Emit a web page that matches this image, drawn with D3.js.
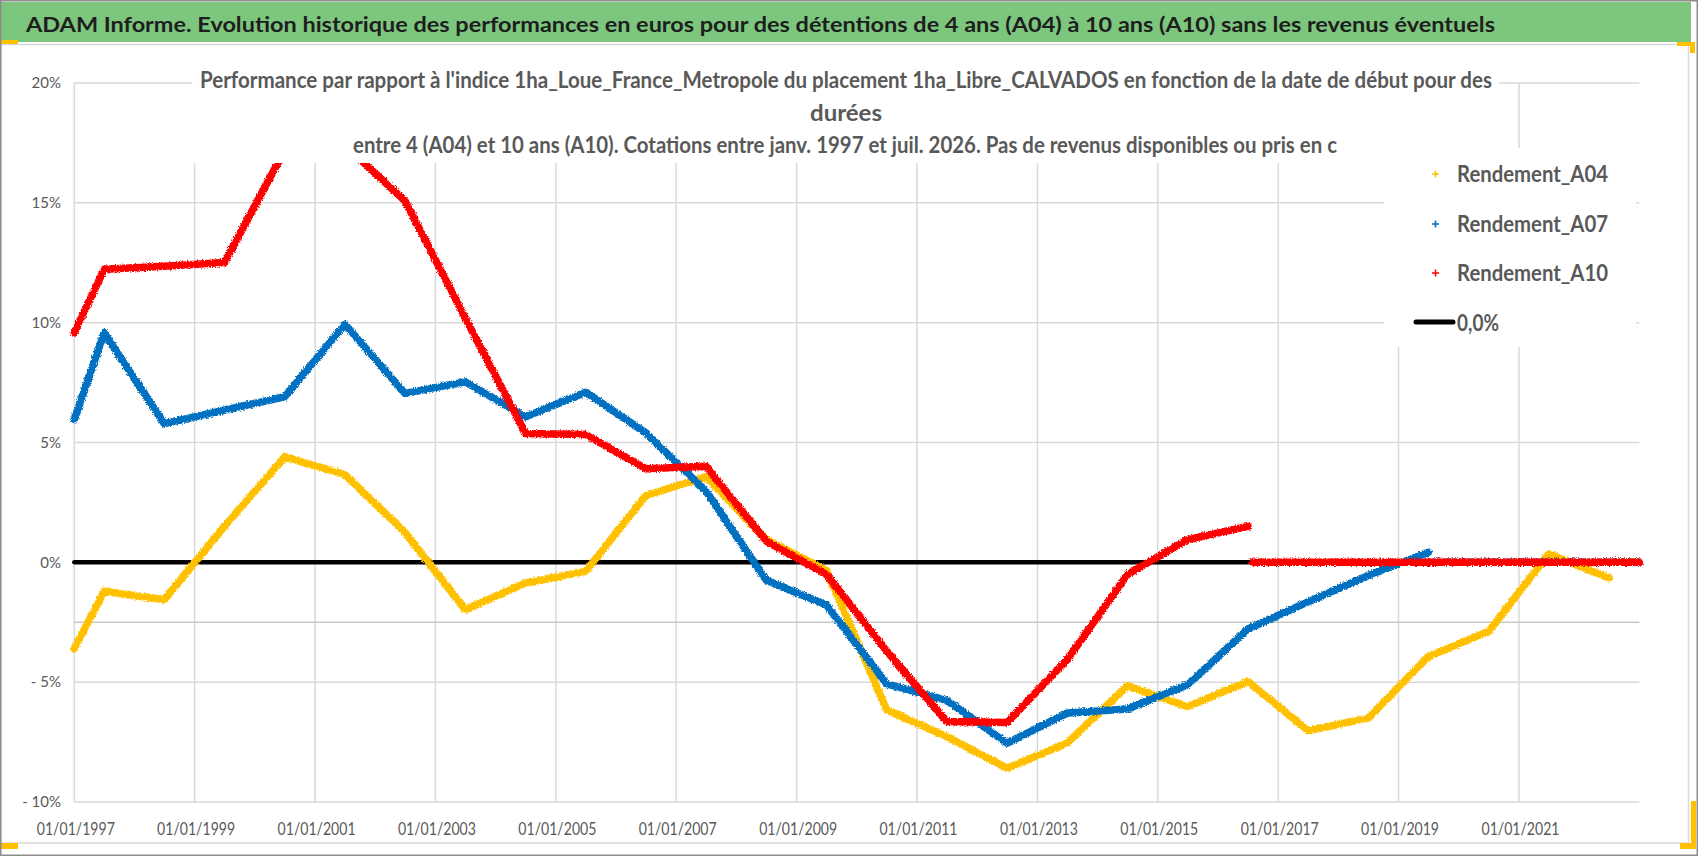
<!DOCTYPE html>
<html>
<head>
<meta charset="utf-8">
<script src="https://cdn.jsdelivr.net/npm/d3@7"></script>
<style>
  body { margin: 0; background: #fff; }
  svg { display: block; }
  text { font-family: Lato, "Open Sans", "DejaVu Sans", sans-serif; }
</style>
</head>
<body>
<svg width="1698" height="856"></svg>
<script>
// start dates shared by the three series (first quote, then each July)
var startDates = [
    "1997-01-01", "1997-07-01", "1998-07-01", "1999-07-01", "2000-07-01", "2001-07-01",
    "2002-07-01", "2003-07-01", "2004-07-01", "2005-07-01", "2006-07-01", "2007-07-01",
    "2008-07-01", "2009-07-01", "2010-07-01", "2011-07-01", "2012-07-01", "2013-07-01",
    "2014-07-01", "2015-07-01", "2016-07-01", "2017-07-01", "2018-07-01", "2019-07-01",
    "2020-07-01", "2021-07-01", "2022-07-01"
];

// rendement in %, one value per start date
var valuesA04 = [-3.6, -1.21, -1.56, 1.5, 4.40, 3.66, 1.25, -1.98, -0.86, -0.38, 2.79, 3.57,
    0.95, -0.33, -6.15, -7.27, -8.59, -7.54, -5.15, -6.02, -4.97, -7.02, -6.50, -3.93,
    -2.88, 0.36, -0.65];
var valuesA07 = [5.96, 9.58, 5.79, 6.35, 6.91, 9.93, 7.05, 7.53, 6.07, 7.10, 5.40, 2.97,
    -0.75, -1.78, -5.07, -5.76, -7.55, -6.29, -6.12, -5.11, -2.78, -1.65, -0.55, 0.42];
var valuesA10 = [9.58, 12.23, 12.35, 12.51, 17.2, 17.4, 15.08, 10.2, 5.38, 5.33, 3.90, 4.01,
    0.88, -0.51, -3.7, -6.64, -6.68, -4.06, -0.51, 0.95, 1.50];

// after the last computable date the series are plotted at 0
var tailA04 = [["2022-08-01", 0], ["2023-01-01", 0]];
var tailA07 = [["2019-08-01", 0], ["2023-01-01", 0]];
var tailA10 = [["2016-08-01", 0], ["2023-01-01", 0]];
var zeroLine = [["1997-01-01", 0], ["2023-01-01", 0]];

var seriesNames = ["Rendement_A04", "Rendement_A07", "Rendement_A10"];
var seriesColors = ["#FFC000", "#0070C0", "#FF0000"];

var tickDates = ["1997-01-01", "1999-01-01", "2001-01-01", "2003-01-01", "2005-01-01",
    "2007-01-01", "2009-01-01", "2011-01-01", "2013-01-01", "2015-01-01", "2017-01-01",
    "2019-01-01", "2021-01-01"];
var yTicks = [-10, -5, 0, 5, 10, 15, 20];
var axisCross = -2.5;

var titleText = "ADAM Informe. Evolution historique des performances en euros pour des détentions de 4 ans (A04) à 10 ans (A10) sans les revenus éventuels";
var subtitleLines = [
    "Performance par rapport à l'indice 1ha_Loue_France_Metropole  du placement 1ha_Libre_CALVADOS en fonction de la date de début pour des",
    "durées",
    "entre 4 (A04) et 10 ans (A10). Cotations entre janv. 1997 et juil. 2026. Pas de revenus disponibles ou pris en c"
];

var parse = d3.timeParse("%Y-%m-%d");

var svg = d3.select("svg"),
    width = +svg.attr("width"),
    height = +svg.attr("height");

var defs = svg.append("defs");
var rough = defs.append("filter").attr("id", "rough")
    .attr("filterUnits", "userSpaceOnUse")
    .attr("x", 0).attr("y", 0).attr("width", width).attr("height", height);
rough.append("feTurbulence").attr("type", "fractalNoise")
    .attr("baseFrequency", 0.8).attr("numOctaves", 2).attr("seed", 3).attr("result", "n");
rough.append("feDisplacementMap").attr("in", "SourceGraphic").attr("in2", "n")
    .attr("scale", 4).attr("xChannelSelector", "R").attr("yChannelSelector", "G");

var x = d3.scaleTime()
    .domain([parse("1997-01-01"), parse("2023-01-01")])
    .range([74.3, 1639.3]);
var y = d3.scaleLinear().domain([-10, 20]).range([802, 83]);

// chart area frame
svg.append("rect").attr("x", 0.5).attr("y", 44.5).attr("width", 1688).attr("height", 798.5)
    .attr("fill", "#fff").attr("stroke", "#d9d9d9").attr("stroke-width", 1.5);

// gridlines
svg.append("g").selectAll("line").data(yTicks).enter().append("line")
    .attr("x1", x.range()[0]).attr("x2", x.range()[1])
    .attr("y1", function (d) { return y(d); }).attr("y2", function (d) { return y(d); })
    .attr("stroke", "#d9d9d9").attr("stroke-width", 1.5);
svg.append("g").selectAll("line").data(tickDates).enter().append("line")
    .attr("x1", function (d) { return x(parse(d)); }).attr("x2", function (d) { return x(parse(d)); })
    .attr("y1", y(20)).attr("y2", y(-10))
    .attr("stroke", "#d9d9d9").attr("stroke-width", 1.5);
svg.append("line")
    .attr("x1", x.range()[0]).attr("x2", x.range()[1])
    .attr("y1", y(axisCross)).attr("y2", y(axisCross))
    .attr("stroke", "#c8c8c8").attr("stroke-width", 1.5);

var line = d3.line()
    .x(function (d) { return x(parse(d[0])); })
    .y(function (d) { return y(d[1]); });

// 0,0% line
svg.append("path").attr("d", line(zeroLine))
    .attr("fill", "none").attr("stroke", "#000").attr("stroke-width", 4.5)
    .attr("stroke-linecap", "round");

var seriesValues = [valuesA04, valuesA07, valuesA10];
var seriesTails = [tailA04, tailA07, tailA10];

seriesValues.forEach(function (vals, i) {
    var pts = vals.map(function (v, j) { return [startDates[j], v]; });
    var g = svg.append("g").attr("filter", "url(#rough)");
    g.append("path").attr("d", line(pts))
        .attr("fill", "none").attr("stroke", seriesColors[i]).attr("stroke-width", 7.5)
        .attr("stroke-linejoin", "round").attr("stroke-linecap", "round");
    g.append("path").attr("d", line(seriesTails[i]))
        .attr("fill", "none").attr("stroke", seriesColors[i]).attr("stroke-width", 7.5)
        .attr("stroke-linecap", "round");
});

// chart title box
svg.append("rect").attr("x", 192).attr("y", 50).attr("width", 1307).attr("height", 113)
    .attr("fill", "#fff");
var subX = [200, 810, 353], subLen = [1292, 72, 984], subY = [88, 121, 153];
subtitleLines.forEach(function (t, i) {
    svg.append("text").attr("x", subX[i]).attr("y", subY[i])
        .attr("textLength", subLen[i]).attr("lengthAdjust", "spacingAndGlyphs")
        .attr("font-size", 22).attr("font-weight", "bold").attr("fill", "#595959")
        .text(t);
});

// legend
svg.append("rect").attr("x", 1384).attr("y", 148).attr("width", 252).attr("height", 199)
    .attr("fill", "#fff");
var legendY = [182, 232, 281];
seriesNames.forEach(function (n, i) {
    svg.append("path")
        .attr("d", "M" + (1432) + "," + (legendY[i] - 8) + "h7M" + 1435.5 + "," + (legendY[i] - 11.5) + "v7")
        .attr("stroke", seriesColors[i]).attr("stroke-width", 1.6);
    svg.append("text").attr("x", 1457).attr("y", legendY[i])
        .attr("textLength", 151).attr("lengthAdjust", "spacingAndGlyphs")
        .attr("font-size", 23).attr("font-weight", "bold").attr("fill", "#595959")
        .text(n);
});
svg.append("line").attr("x1", 1416).attr("x2", 1453).attr("y1", 322).attr("y2", 322)
    .attr("stroke", "#000").attr("stroke-width", 5).attr("stroke-linecap", "round");
svg.append("text").attr("x", 1457).attr("y", 331)
    .attr("textLength", 42).attr("lengthAdjust", "spacingAndGlyphs")
    .attr("font-size", 23).attr("font-weight", "bold").attr("fill", "#595959")
    .text("0,0%");

// axes labels
var yAxis = svg.append("g").attr("transform", "translate(61,0)")
    .call(d3.axisLeft(y).tickValues(yTicks).tickSize(0).tickPadding(0)
        .tickFormat(function (d) { return d < 0 ? "- " + Math.abs(d) + "%" : d + "%"; }));
yAxis.select(".domain").remove();
yAxis.selectAll("text").attr("font-size", 15).attr("fill", "#595959")
    .attr("font-family", "Lato, 'Open Sans', sans-serif");

var xAxis = svg.append("g").attr("transform", "translate(1," + y(-10) + ")")
    .call(d3.axisBottom(x).tickValues(tickDates.map(parse)).tickSize(0).tickPadding(21)
        .tickFormat(d3.timeFormat("%d/%m/%Y")));
xAxis.select(".domain").remove();
xAxis.selectAll("text").attr("font-size", 17).attr("fill", "#595959")
    .attr("font-family", "Lato, 'Open Sans', sans-serif")
    .attr("textLength", 78).attr("lengthAdjust", "spacingAndGlyphs");

// title bar
svg.append("rect").attr("x", 1).attr("y", 2).attr("width", 1690).attr("height", 40)
    .attr("fill", "#7dc67d");
svg.append("text").attr("x", 26).attr("y", 32)
    .attr("textLength", 1469).attr("lengthAdjust", "spacingAndGlyphs")
    .attr("font-size", 21).attr("font-weight", "bold").attr("fill", "#1e1e1e")
    .text(titleText);

// selection handles
var handles = svg.append("g").attr("fill", "#FFC000");
handles.append("rect").attr("x", 0).attr("y", 40).attr("width", 18).attr("height", 4);
handles.append("rect").attr("x", 0).attr("y", 843).attr("width", 18).attr("height", 6);
handles.append("rect").attr("x", 1677).attr("y", 42).attr("width", 18).attr("height", 4);
handles.append("rect").attr("x", 1690).attr("y", 42).attr("width", 5).attr("height", 11);
handles.append("rect").attr("x", 1691).attr("y", 801).attr("width", 5).attr("height", 48);
handles.append("rect").attr("x", 1680).attr("y", 843).attr("width", 16).attr("height", 6);

// outer frame
svg.append("rect").attr("x", 0.75).attr("y", 0.75).attr("width", width - 1.5).attr("height", height - 1.5)
    .attr("fill", "none").attr("stroke", "#8c8c8c").attr("stroke-width", 1.5);
</script>
</body>
</html>
